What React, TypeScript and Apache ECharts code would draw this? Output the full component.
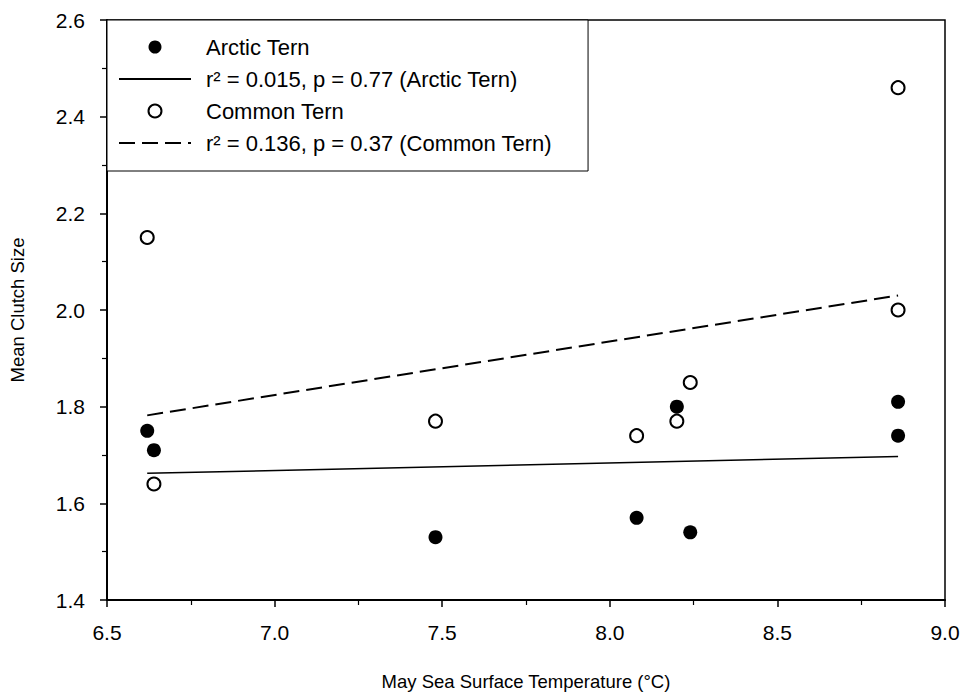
import React, { useEffect, useRef } from "react";
import * as echarts from "echarts";

const arcticX = [6.62, 6.64, 7.48, 8.08, 8.2, 8.24, 8.86, 8.86];
const arcticY = [1.75, 1.71, 1.53, 1.57, 1.8, 1.54, 1.81, 1.74];
const commonX = [6.62, 6.64, 7.48, 8.08, 8.2, 8.24, 8.86, 8.86];
const commonY = [2.15, 1.64, 1.77, 1.74, 1.77, 1.85, 2.46, 2.0];

const arcticFitX = [6.62, 8.86];
const arcticFitY = [1.662, 1.697];
const commonFitX = [6.62, 8.86];
const commonFitY = [1.782, 2.03];

const names = [
  "Arctic Tern",
  "r² = 0.015, p = 0.77 (Arctic Tern)",
  "Common Tern",
  "r² = 0.136, p = 0.37 (Common Tern)",
];
const xTitle = "May Sea Surface Temperature (°C)";
const yTitle = "Mean Clutch Size";

const zip = (xs: number[], ys: number[]) => xs.map((x, i) => [x, ys[i]]);

export default function App() {
  const ref = useRef<HTMLDivElement>(null);
  useEffect(() => {
    if (!ref.current) return;
    const chart = echarts.init(ref.current, null, { renderer: "svg" });
    const font = "Liberation Sans, Arial, sans-serif";
    const hidden = { color: "transparent", borderColor: "transparent", borderWidth: 0 };
    chart.setOption({
      animation: false,
      backgroundColor: "#fff",
      textStyle: { fontFamily: font, color: "#000" },
      grid: {
        left: 107,
        right: 18,
        top: 20,
        bottom: 95,
        show: true,
        borderColor: "#000",
        borderWidth: 1.5,
      },
      legend: {
        data: [
          { name: names[0] },
          { name: names[1], itemStyle: { opacity: 0 } },
          { name: names[2] },
          { name: names[3], itemStyle: { opacity: 0 } },
        ],
        orient: "vertical",
        left: 107,
        top: 20,
        padding: [16, 36, 17, 11],
        itemGap: 10,
        itemWidth: 72,
        itemHeight: 13,
        borderColor: "#000",
        borderWidth: 1,
        backgroundColor: "#fff",
        selectedMode: false,
        textStyle: {
          fontFamily: font,
          fontSize: 22,
          color: "#000",
          padding: [0, 0, 0, 10],
        },
      },
      xAxis: {
        type: "value",
        min: 6.5,
        max: 9.0,
        interval: 0.5,
        name: xTitle,
        nameLocation: "middle",
        nameGap: 72,
        nameTextStyle: { fontFamily: font, fontSize: 18.5, color: "#000" },
        axisLine: { onZero: false, lineStyle: { color: "#000", width: 2 } },
        axisTick: { show: true, length: 7, lineStyle: { color: "#000", width: 1.5 } },
        minorTick: { show: true, splitNumber: 2, length: 5, lineStyle: { color: "#000", width: 1.2 } },
        axisLabel: {
          margin: 22,
          fontSize: 21,
          color: "#000",
          fontFamily: font,
          formatter: (v: number) => v.toFixed(1),
        },
        splitLine: { show: false },
      },
      yAxis: {
        type: "value",
        min: 1.4,
        max: 2.6,
        interval: 0.2,
        name: yTitle,
        nameLocation: "middle",
        nameGap: 80,
        nameRotate: 90,
        nameTextStyle: { fontFamily: font, fontSize: 18.5, color: "#000" },
        axisLine: { onZero: false, lineStyle: { color: "#000", width: 2 } },
        axisTick: { show: true, length: 7, lineStyle: { color: "#000", width: 1.5 } },
        minorTick: { show: true, splitNumber: 2, length: 5, lineStyle: { color: "#000", width: 1.2 } },
        axisLabel: {
          margin: 22,
          fontSize: 21,
          color: "#000",
          fontFamily: font,
          formatter: (v: number) => v.toFixed(1),
        },
        splitLine: { show: false },
      },
      series: [
        {
          name: names[1],
          type: "line",
          data: zip(arcticFitX, arcticFitY),
          symbol: "none",
          lineStyle: { color: "#000", width: 1.5, type: "solid" },
          itemStyle: hidden,
          z: 1,
        },
        {
          name: names[3],
          type: "line",
          data: zip(commonFitX, commonFitY),
          symbol: "none",
          lineStyle: { color: "#000", width: 2, type: [16, 7] },
          itemStyle: hidden,
          z: 1,
        },
        {
          name: names[0],
          type: "scatter",
          data: zip(arcticX, arcticY),
          symbol: "circle",
          symbolSize: 14,
          itemStyle: { color: "#000", opacity: 1 },
          z: 2,
        },
        {
          name: names[2],
          type: "scatter",
          data: zip(commonX, commonY),
          symbol: "circle",
          symbolSize: 13,
          itemStyle: { color: "#fff", borderColor: "#000", borderWidth: 2, opacity: 1 },
          z: 3,
        },
      ],
    });
    return () => chart.dispose();
  }, []);
  return (
    <div
      ref={ref}
      style={{ position: "absolute", left: 0, top: 0, width: 963, height: 696 }}
    />
  );
}
